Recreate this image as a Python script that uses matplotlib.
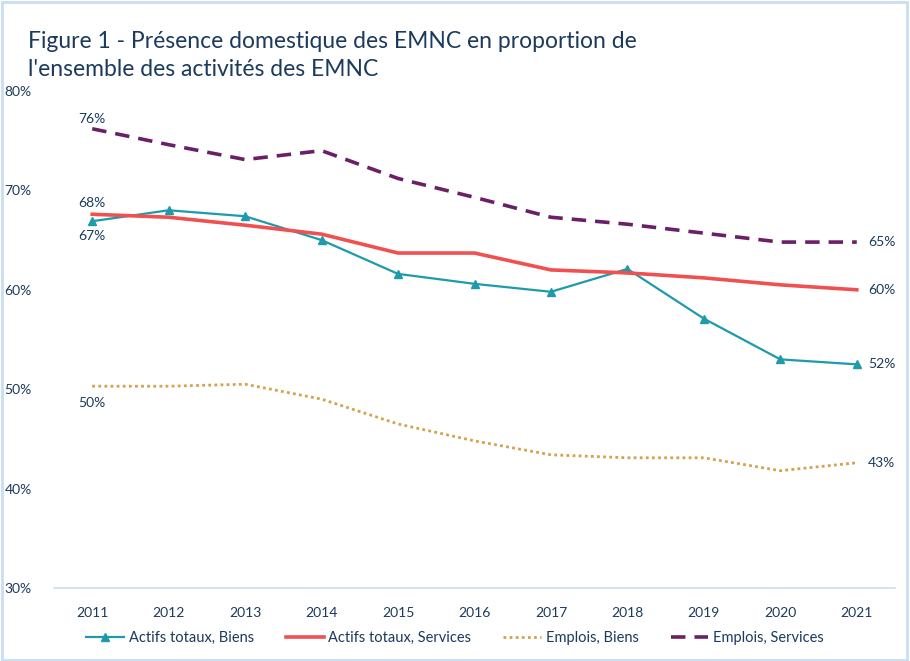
import numpy as np
import matplotlib.pyplot as plt
from matplotlib.patches import Rectangle

years = ["2011", "2012", "2013", "2014", "2015", "2016", "2017", "2018", "2019", "2020", "2021"]
actifs_biens = [66.9, 68.0, 67.4, 65.0, 61.6, 60.6, 59.8, 62.1, 57.1, 53.0, 52.5]
actifs_services = [67.6, 67.3, 66.5, 65.6, 63.7, 63.7, 62.0, 61.7, 61.2, 60.5, 60.0]
emplois_biens = [50.3, 50.3, 50.5, 49.0, 46.5, 44.8, 43.4, 43.1, 43.1, 41.8, 42.6]
emplois_services = [76.2, 74.6, 73.1, 74.0, 71.2, 69.3, 67.3, 66.6, 65.7, 64.8, 64.8]
y_ticks = [30, 40, 50, 60, 70, 80]

navy = "#1b3a5c"
teal = "#1d9bab"
red = "#f0504f"
gold = "#d4a24c"
purple = "#6b1f66"
plt.rcParams['font.family'] = ['Lato', 'DejaVu Sans']

fig = plt.figure(figsize=(9.1, 6.61), dpi=100)
fig.patches.append(Rectangle((0.002, 0.002), 0.995, 0.995, transform=fig.transFigure,
                             fill=False, edgecolor="#c9def2", linewidth=2))
ax = fig.add_axes([54/910, 1-588/661, (895-54)/910, (588-91)/661])

x = np.arange(len(years))
ax.plot(x, actifs_biens, color=teal, lw=1.6, marker="^", ms=6, label="Actifs totaux, Biens")
ax.plot(x, actifs_services, color=red, lw=2.6, label="Actifs totaux, Services")
ax.plot(x, emplois_biens, color=gold, lw=2, ls=(0, (1, 1.2)), label="Emplois, Biens")
ax.plot(x, emplois_services, color=purple, lw=2.6, ls=(0, (4, 2.5)), label="Emplois, Services")

ax.set_xlim(-0.5, len(years) - 0.5)
ax.set_ylim(30, 80)
ax.set_yticks(y_ticks)
ax.set_yticklabels([f"{v}%" for v in y_ticks])
ax.set_xticks(x)
ax.set_xticklabels(years)
for s in ["top", "right", "left"]:
    ax.spines[s].set_visible(False)
ax.spines["bottom"].set_color("#c9def2")
ax.spines["bottom"].set_linewidth(1.2)
ax.tick_params(axis="both", length=0, colors=navy, labelsize=10)
ax.tick_params(axis="y", pad=16)
ax.tick_params(axis="x", pad=14)

# data labels
lab = dict(color=navy, fontsize=10)
ax.text(0, emplois_services[0] + 0.4, f"{round(emplois_services[0])}%", ha="center", va="bottom", **lab)
ax.text(0, actifs_services[0] + 0.5, f"{round(actifs_services[0])}%", ha="center", va="bottom", **lab)
ax.text(0, actifs_biens[0] - 0.9, f"{round(actifs_biens[0])}%", ha="center", va="top", **lab)
ax.text(0, emplois_biens[0] - 1.1, f"{round(emplois_biens[0])}%", ha="center", va="top", **lab)
for series in [emplois_services, actifs_services, actifs_biens, emplois_biens]:
    ax.text(10.15, series[-1], f"{round(series[-1])}%", ha="left", va="center", **lab)

fig.text(28/910, 1-48/661, "Figure 1 - Présence domestique des EMNC en proportion de",
         color=navy, fontsize=16.5, ha="left", va="baseline")
fig.text(28/910, 1-76/661, "l'ensemble des activités des EMNC",
         color=navy, fontsize=16.5, ha="left", va="baseline")

fig.legend(loc="center", bbox_to_anchor=(0.5, 1-638/661), ncol=4, frameon=False,
           fontsize=10.5, labelcolor=navy, handlelength=2.6, columnspacing=2.2, handletextpad=0.3)

fig.savefig("out.png", dpi=100)
